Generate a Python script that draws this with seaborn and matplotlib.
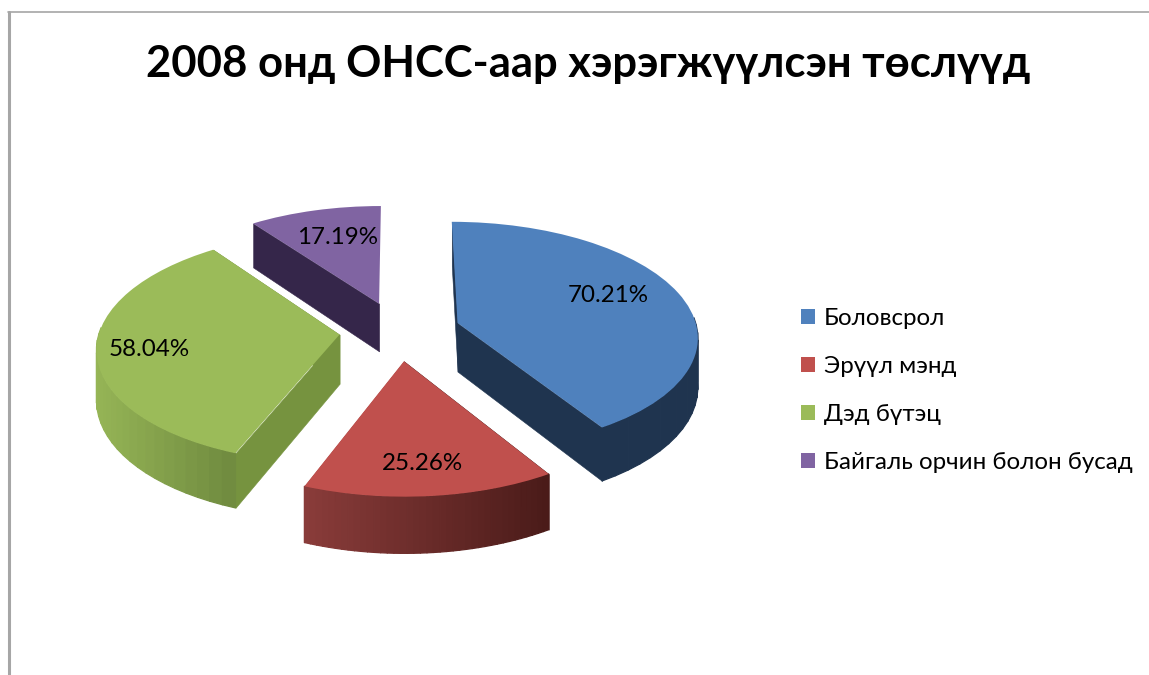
import numpy as np
import matplotlib
matplotlib.use("Agg")
import matplotlib.pyplot as plt
from matplotlib.collections import PolyCollection
from matplotlib.colors import to_rgb
from matplotlib.lines import Line2D
from matplotlib.transforms import Transform
import seaborn as sns

TITLE = "2008 онд ОНСС-аар хэрэгжүүлсэн төслүүд"
CATEGORIES = ["Боловсрол", "Эрүүл мэнд", "Дэд бүтэц", "Байгаль орчин болон бусад"]
VALUES = [70.21, 25.26, 58.04, 17.19]

TOP_COLORS = ["#4f81bd", "#c0504d", "#9bbb59", "#8064a2"]
WALL_LEFT = ["#1f344f", "#8a3c3a", "#96b556", "#33253f"]
WALL_RIGHT = ["#1f344f", "#4a1b19", "#6f8a3f", "#33253f"]
CUT_COLORS = ["#1f344f", "#4a1b19", "#76933f", "#35264a"]

# pixel centres of the value labels
LABEL_POS = [(608, 295), (422, 463), (149, 350), (338, 237)]

# pie tilt, in pixels
CX, CY = 398, 331
RX, RY = 240, 113.7
PERSP = 0.108
DEPTH = 49
EXPLODE = [0.26, 0.26, 0.245, 0.26]


class PieTilt(Transform):
    input_dims = 2
    output_dims = 2

    def transform_non_affine(self, values):
        xy = np.asarray(values, dtype=float)
        s = 1 / (1 + PERSP * xy[:, 1])
        return np.column_stack([CX + RX * xy[:, 0] * s, CY - RY * xy[:, 1] * s])


def shifted(xy):
    # same points, on the underside of the pie
    xy = np.atleast_2d(xy)
    out = PieTilt().transform_non_affine(xy)
    out[:, 1] += DEPTH / (1 + PERSP * xy[:, 1])
    return out


def extrude(ax, a, b, color, z):
    top = PieTilt().transform_non_affine(np.array([a, b]))
    low = shifted(np.array([a, b]))
    poly = [top[0], top[1], low[1], low[0]]
    ax.add_collection(PolyCollection([poly], facecolors=[color], edgecolors=[color],
                                     linewidths=0.4, zorder=z))


sns.set_theme(style="white")
plt.rcParams["font.family"] = ["Lato", "DejaVu Sans"]

fig = plt.figure(figsize=(11.49, 6.75), dpi=100, facecolor="white")
ax = fig.add_axes([0, 0, 1, 1])

wedges, _ = ax.pie(
    VALUES, explode=EXPLODE, colors=sns.color_palette(TOP_COLORS),
    startangle=90, counterclock=False, radius=1,
    wedgeprops={"linewidth": 0},
)
ax.set_aspect("auto")
ax.set_xlim(0, 1149)
ax.set_ylim(675, 0)

tilt = PieTilt() + ax.transData
# back to front
for rank, i in enumerate([3, 2, 0, 1]):
    w = wedges[i]
    base = 10 + rank * 4
    w.set_transform(tilt)
    w.set_zorder(base + 2)
    c = np.array(w.center)
    angles = np.radians(np.linspace(w.theta1, w.theta2, 40))
    rim = c + w.r * np.column_stack([np.cos(angles), np.sin(angles)])

    # purple's edge at 12 o'clock faces away from the viewer
    if i != 3:
        extrude(ax, c, rim[0], CUT_COLORS[i], base)
    extrude(ax, c, rim[-1], CUT_COLORS[i], base)

    left, right = np.array(to_rgb(WALL_LEFT[i])), np.array(to_rgb(WALL_RIGHT[i]))
    top = PieTilt().transform_non_affine(rim)
    low = shifted(rim)
    span = max(top[:, 0].max() - top[:, 0].min(), 1)
    polys, cols = [], []
    for k in range(len(rim) - 1):
        # the back of the rim is hidden, its strokes would only peek out
        if np.sin(angles[k]) > 0.03 and np.sin(angles[k + 1]) > 0.03:
            continue
        polys.append([top[k], top[k + 1], low[k + 1], low[k]])
        t = (top[k:k + 2, 0].mean() - top[:, 0].min()) / span
        cols.append(left + (right - left) * t)
    if polys:
        ax.add_collection(PolyCollection(polys, facecolors=cols, edgecolors=cols,
                                         linewidths=0.9, zorder=base + 1))

for value, (x, y) in zip(VALUES, LABEL_POS):
    ax.text(x, y, f"{value:.2f}%", ha="center", va="center", fontsize=17.4, color="black", zorder=40)

ax.text(588, 77, TITLE, ha="center", va="baseline", fontsize=31.4, fontweight="bold",
        color="black", zorder=40)

ax.legend(
    wedges, CATEGORIES, loc="upper left", bbox_to_anchor=(779 / 1149, 1 - 286 / 675),
    frameon=False, fontsize=17.4, handlelength=0.6, handleheight=0.6,
    handletextpad=0.35, labelspacing=1.125, labelcolor="black",
)

# frame of the pasted chart
for xs, ys, lw in [((9, 9), (12, 675), 2.2), ((8, 1149), (11.5, 11.5), 1.2)]:
    ax.add_line(Line2D(xs, ys, color="#a6a6a6", lw=lw, zorder=50))

fig.savefig("out.png", dpi=100)
